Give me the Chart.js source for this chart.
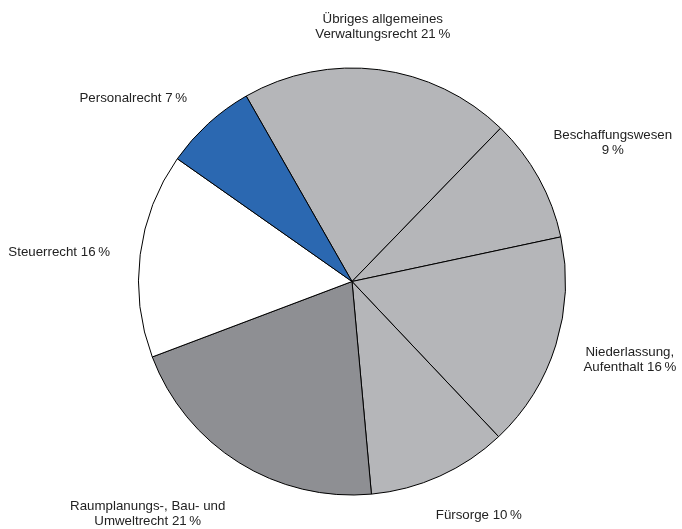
<!DOCTYPE html>
<html>
<head>
<meta charset="utf-8">
<script src="https://cdn.jsdelivr.net/npm/chart.js@4/dist/chart.umd.min.js"></script>
<style>
  html, body { margin: 0; padding: 0; background: #fff; }
  #wrap { width: 682px; height: 529px; }
</style>
</head>
<body>
<div id="wrap"><canvas id="pie" width="682" height="529"></canvas></div>
<script>
// Share of cases by legal area (percent)
const categories = [
  'Übriges allgemeines Verwaltungsrecht',
  'Beschaffungswesen',
  'Niederlassung, Aufenthalt',
  'Fürsorge',
  'Raumplanungs-, Bau- und Umweltrecht',
  'Steuerrecht',
  'Personalrecht'
];
const shares = [20.5, 9.4, 16.3, 10.6, 20.7, 15.5, 7.0];
const labelLines = [
  ['Übriges allgemeines', 'Verwaltungsrecht 21\u2009%'],
  ['Beschaffungswesen', '9\u2009%'],
  ['Niederlassung,', 'Aufenthalt 16\u2009%'],
  ['Fürsorge 10\u2009%'],
  ['Raumplanungs-, Bau- und', 'Umweltrecht 21\u2009%'],
  ['Steuerrecht 16\u2009%'],
  ['Personalrecht 7\u2009%']
];

const sliceColors = ['#b5b6b9', '#b5b6b9', '#b5b6b9', '#b5b6b9', '#8e8f93', '#ffffff', '#2b68b1'];
// offset of each label (first baseline, centre) from the outer mid point of its slice
const labelOffsets = [[4, -47], [74, -39], [74, 11], [39, 43], [-91, 48], [-81, 1], [-75, -22]];

const outsideLabels = {
  id: 'outsideLabels',
  afterDatasetsDraw(chart) {
    const ctx = chart.ctx;
    const arcs = chart.getDatasetMeta(0).data;
    ctx.save();
    ctx.font = '13.3px "Liberation Sans", Arial, sans-serif';
    ctx.fillStyle = '#222';
    ctx.textAlign = 'center';
    ctx.textBaseline = 'alphabetic';
    arcs.forEach((arc, i) => {
      const p = arc.getProps(['x', 'y', 'startAngle', 'endAngle', 'outerRadius'], true);
      const mid = (p.startAngle + p.endAngle) / 2;
      const ox = p.x + p.outerRadius * Math.cos(mid) + labelOffsets[i][0];
      const oy = p.y + p.outerRadius * Math.sin(mid) + labelOffsets[i][1];
      labelLines[i].forEach((line, j) => ctx.fillText(line, ox, oy + j * 15));
    });
    ctx.restore();
  }
};

new Chart(document.getElementById('pie'), {
  type: 'pie',
  data: {
    labels: categories,
    datasets: [{
      data: shares,
      backgroundColor: sliceColors,
      borderColor: '#000',
      borderWidth: 1,
      hoverOffset: 0
    }]
  },
  options: {
    responsive: false,
    animation: false,
    devicePixelRatio: 1,
    rotation: -29.7,
    radius: 213.5,
    layout: { padding: { left: 22, top: 34, right: 0, bottom: 0 } },
    plugins: {
      legend: { display: false },
      tooltip: { enabled: false }
    }
  },
  plugins: [outsideLabels]
});
</script>
</body>
</html>
